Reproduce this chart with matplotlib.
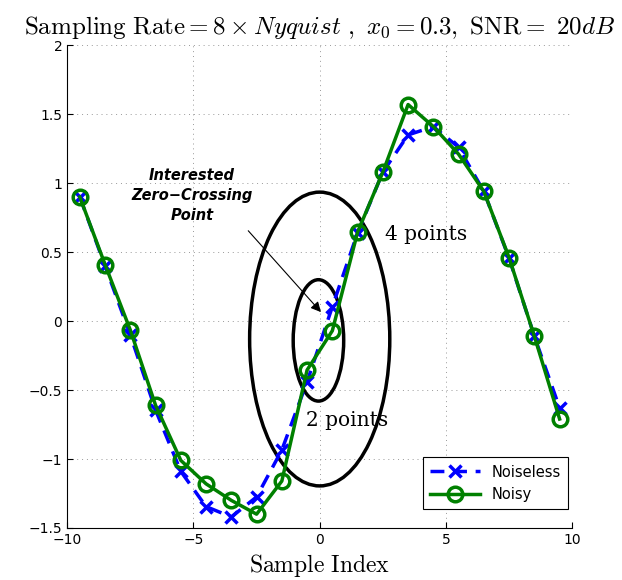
import numpy as np
import matplotlib
matplotlib.use("Agg")
import matplotlib.pyplot as plt
from matplotlib.patches import Ellipse

plt.rcParams['mathtext.fontset'] = 'cm'

# sample indices and the two signals
n = [-9.5, -8.5, -7.5, -6.5, -5.5, -4.5, -3.5, -2.5, -1.5, -0.5,
     0.5, 1.5, 2.5, 3.5, 4.5, 5.5, 6.5, 7.5, 8.5, 9.5]
noiseless = [0.90, 0.40, -0.10, -0.645, -1.09, -1.345, -1.42, -1.275, -0.935, -0.44,
             0.104, 0.64, 1.08, 1.35, 1.41, 1.26, 0.94, 0.455, -0.11, -0.63]
noisy = [0.90, 0.41, -0.065, -0.61, -1.01, -1.18, -1.30, -1.40, -1.16, -0.355,
         -0.07, 0.645, 1.08, 1.57, 1.41, 1.21, 0.94, 0.46, -0.11, -0.71]

xticks = [-10, -5, 0, 5, 10]
yticks = [-1.5, -1, -0.5, 0, 0.5, 1, 1.5, 2]

fig = plt.figure(figsize=(6.22, 5.8), dpi=100)
ax = fig.add_axes([0.108, 0.0897, 0.812, 0.8323])

ax.plot(n, noiseless, '--x', color='blue', lw=2.5, ms=8.5, mew=2.5,
        dashes=(4, 2.5), label='Noiseless')
ax.plot(n, noisy, '-o', color=(0, 0.5, 0), lw=2.5, ms=10.5, mew=2.5,
        mfc='none', label='Noisy')

# regions around the zero crossing
ax.add_patch(Ellipse((0.0, -0.13), 5.55, 2.13, fill=False, lw=2.5, ec='black'))
ax.add_patch(Ellipse((-0.05, -0.14), 2.0, 0.88, fill=False, lw=2.5, ec='black'))

ax.text(2.6, 0.63, '4 points', fontsize=14.5, fontname='DejaVu Serif',
        va='center', ha='left')
ax.text(-0.55, -0.72, '2 points', fontsize=14.5, fontname='DejaVu Serif',
        va='center', ha='left')

ax.text(-5.05, 0.91, 'Interested\nZero\u2212Crossing\nPoint',
        ha='center', va='center', fontsize=10.5, fontweight='bold', fontstyle='italic',
        linespacing=1.4)
ax.annotate('', xy=(0.05, 0.065), xytext=(-2.83, 0.655),
            arrowprops=dict(arrowstyle='-|>', color='black', lw=0.8,
                            shrinkA=0, shrinkB=0, mutation_scale=15))

ax.set_xlim(-10, 10)
ax.set_ylim(-1.5, 2)
ax.set_xticks(xticks)
ax.set_yticks(yticks)
ax.set_yticklabels(['\u22121.5', '\u22121', '\u22120.5', '0', '0.5', '1', '1.5', '2'])
ax.set_xticklabels(['\u221210', '\u22125', '0', '5', '10'])
ax.tick_params(direction='in', labelsize=10, length=4)
ax.spines['top'].set_visible(False)
ax.spines['right'].set_visible(False)
ax.grid(True, linestyle=(0, (1, 4)), color='#999999', lw=0.7)
ax.set_axisbelow(True)

ax.set_title(r'$\mathrm{Sampling\ Rate} = 8 \times Nyquist\ ,\ x_0 = 0.3,\ \mathrm{SNR}{=}\ 20dB$',
             fontsize=18, pad=8)
ax.set_xlabel(r'$\mathrm{Sample\ Index}$', fontsize=17, labelpad=4)

leg = ax.legend(loc='lower right', bbox_to_anchor=(0.992, 0.039), borderaxespad=0,
                fontsize=10.5, fancybox=False, framealpha=1,
                edgecolor='black', handlelength=3.4, borderpad=0.5)
leg.get_frame().set_linewidth(0.8)

fig.savefig('out.png', dpi=100)
